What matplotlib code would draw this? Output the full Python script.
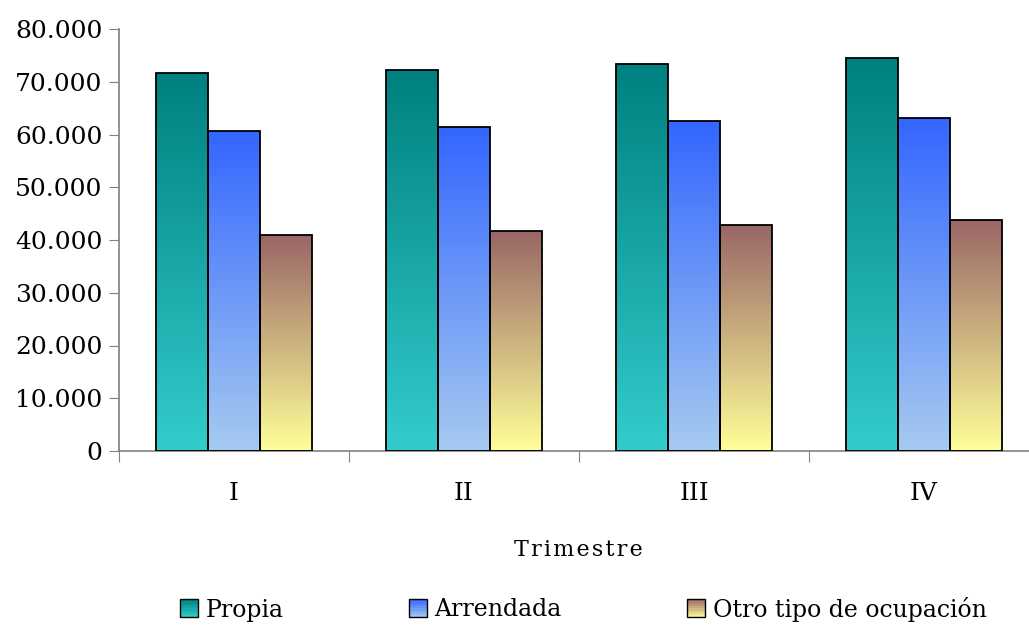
import numpy as np
import matplotlib
matplotlib.use("Agg")
import matplotlib.pyplot as plt
from matplotlib.colors import LinearSegmentedColormap
from matplotlib.legend_handler import HandlerBase
from matplotlib.patches import Rectangle

# Data
trimestres = ["I", "II", "III", "IV"]
series_names = ["Propia", "Arrendada", "Otro tipo de ocupación"]
propia = [71600, 72200, 73400, 74500]
arrendada = [60600, 61400, 62500, 63100]
otro = [40900, 41700, 42800, 43800]

# gradient colours (top, bottom) for each series
gradients = [("#008080", "#33CCCC"), ("#3366FF", "#A6CAF0"), ("#996666", "#FFFF99")]

plt.rcParams['font.family'] = ['DejaVu Serif']

fig = plt.figure(figsize=(10.29, 6.26), dpi=100)
ax = fig.add_axes([119 / 1029, 175 / 626, 920 / 1029, 422 / 626])

x = np.arange(len(trimestres))
width = 52 / 230
series = [propia, arrendada, otro]

for i, (vals, (top, bottom)) in enumerate(zip(series, gradients)):
    cmap = LinearSegmentedColormap.from_list(f"g{i}", [bottom, top])
    bars = ax.bar(x + (i - 1) * width, vals, width, color="none",
                  edgecolor="black", linewidth=1.3, zorder=3)
    for bar in bars:
        x0, y0 = bar.get_x(), bar.get_y()
        w, h = bar.get_width(), bar.get_height()
        grad = np.linspace(0, 1, 256).reshape(-1, 1)
        im = ax.imshow(grad, cmap=cmap, origin="lower", aspect="auto",
                       extent=(x0, x0 + w, y0, y0 + h), zorder=2,
                       interpolation="bilinear")
        im.set_clip_path(bar)

ax.set_xlim(-0.5, len(trimestres) - 0.5)
ax.set_ylim(0, 80000)
ax.set_yticks(np.arange(0, 80001, 10000))
ax.set_yticklabels(["0"] + [f"{v // 1000}.000" for v in range(10000, 80001, 10000)])

# category boundary ticks with labels centred between them
ax.set_xticks(np.arange(len(trimestres) + 1) - 0.5)
ax.set_xticklabels([])
ax.set_xticks(x, minor=True)
ax.set_xticklabels(trimestres, minor=True)
ax.tick_params(axis="x", which="minor", length=0, pad=22, labelsize=18)
ax.tick_params(axis="x", which="major", length=8, color="#808080")
ax.tick_params(axis="y", length=7, color="#808080", labelsize=18, pad=5)

for s in ["top", "right"]:
    ax.spines[s].set_visible(False)
for s in ["left", "bottom"]:
    ax.spines[s].set_color("#808080")
    ax.spines[s].set_linewidth(1.2)

fig.text(578 / 1029, 1 - 550 / 626, "T r i m e s t r e".replace(" ", "\u200a"),
         ha="center", va="center", fontsize=16)


class GradientHandler(HandlerBase):
    def __init__(self, top, bottom):
        super().__init__()
        self.top, self.bottom = top, bottom

    def create_artists(self, legend, orig_handle, xdescent, ydescent,
                       width, height, fontsize, trans):
        cmap = LinearSegmentedColormap.from_list("h", [self.bottom, self.top])
        size = height * 1.1
        x0 = -xdescent + (width - size) / 2
        y0 = -ydescent - 0.05 * height
        n = 8
        arts = []
        for k in range(n):
            r = Rectangle((x0, y0 + k * size / n), size, size / n,
                          facecolor=cmap((k + 0.5) / n), edgecolor="none",
                          transform=trans)
            arts.append(r)
        arts.append(Rectangle((x0, y0), size, size, facecolor="none",
                              edgecolor="black", linewidth=1.0, transform=trans))
        return arts


handles = [Rectangle((0, 0), 1, 1) for _ in series_names]
handler_map = {h: GradientHandler(t, b) for h, (t, b) in zip(handles, gradients)}
fig.legend(handles, series_names, handler_map=handler_map, loc="center",
           bbox_to_anchor=(583 / 1029, 1 - 609 / 626), ncol=3, frameon=False,
           fontsize=17, handlelength=0.8, handletextpad=0.3, columnspacing=5.3)

fig.savefig("out.png", dpi=100)
